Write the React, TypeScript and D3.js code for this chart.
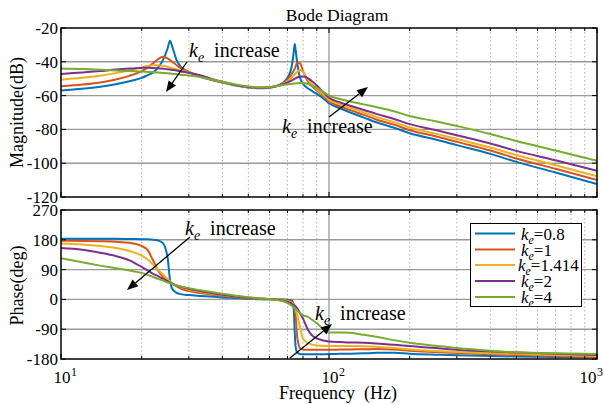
import React from "react";
import * as d3 from "d3";

// Frequency samples (Hz)
const FREQ = [10, 12, 14, 16, 18, 20, 21, 22, 23, 24, 25, 25.5, 26, 27, 28, 30, 33, 36, 40, 45, 50, 55, 60, 64, 67, 70, 72, 73, 74, 74.5, 75, 76, 78, 80, 83, 86, 90, 95, 100, 110, 120, 135, 150, 175, 200, 250, 300, 400, 500, 700, 1000];

const KE_LABELS = ["0.8", "1", "1.414", "2", "4"];
const COLORS = ["#0072BD", "#D95319", "#EDB120", "#7E2F8E", "#77AC30"];

// Magnitude (dB)
const MAG_08 = [-57, -56, -54.8, -53.3, -51.5, -49.5, -48, -46.5, -43.5, -39, -32, -27.5, -31, -39, -43, -46, -48.7, -50.5, -52.2, -54, -55.2, -55.6, -55.3, -54.2, -52.6, -49.5, -45, -40.5, -33, -29.5, -32.5, -40, -49.5, -53, -55.5, -57, -59, -61.5, -64.5, -67.5, -70, -73, -75.8, -79, -82.3, -86, -89.3, -94.5, -99.2, -105.5, -112.4];
const MAG_1 = [-54.5, -53.5, -52.2, -50.5, -48.3, -45.5, -43.5, -41, -38.5, -37, -38, -39, -40, -42, -43.8, -46, -48.5, -50.3, -52.1, -53.9, -55.1, -55.5, -55.2, -54.3, -53, -50.5, -48, -46.5, -45, -44, -43, -40.5, -41, -45.5, -51, -54, -57, -60, -63.5, -66.3, -68.6, -71.4, -74.1, -77.2, -80.5, -84.1, -87.4, -92.5, -97.2, -103.3, -110];
const MAG_1414 = [-50.6, -49.5, -48.2, -46.7, -45, -43.3, -42.5, -42, -42, -42.4, -43, -43.4, -43.8, -44.5, -45.2, -46.3, -48.2, -50, -52, -53.8, -55, -55.4, -55.1, -54.3, -53.2, -51.5, -50, -49, -48, -47.5, -47, -46, -44.8, -46, -50, -53, -56, -59.3, -62.5, -65, -67.2, -70, -72.6, -75.7, -78.9, -82.5, -85.7, -90.7, -95.2, -101.2, -107.8];
const MAG_2 = [-47.2, -46.4, -45.5, -44.6, -44, -43.6, -43.5, -43.6, -43.8, -44.1, -44.4, -44.6, -44.8, -45.2, -45.7, -46.5, -48, -49.8, -51.8, -53.7, -54.9, -55.3, -55, -54.3, -53.4, -52.2, -51.3, -50.8, -50.3, -50, -49.8, -49.3, -48.8, -48.7, -49.5, -51.2, -54, -57.8, -61.3, -64, -66, -68.5, -70.8, -73.8, -76.9, -80.4, -83.5, -88.3, -92.7, -98.3, -104.5];
const MAG_4 = [-44, -44.3, -44.7, -45.1, -45.5, -45.8, -46, -46.2, -46.4, -46.6, -46.8, -46.9, -47, -47.3, -47.6, -48.1, -49, -50.2, -51.8, -53.5, -54.6, -55.1, -54.9, -54.3, -53.8, -53.3, -53.1, -53, -52.9, -52.8, -52.8, -52.7, -52.6, -52.6, -53, -54, -55.5, -57.8, -60, -62, -63.5, -65.2, -66.8, -69.3, -72.1, -75.2, -78, -82.7, -86.9, -92.5, -98.6];

// Phase (deg)
const PH_08 = [183, 183, 183, 183, 182.5, 182, 181.5, 180.5, 178, 170, 125, 60, 32, 20, 16, 13, 10.5, 8.5, 6, 4, 2, 0.5, 0, -0.3, -0.5, -1, -2.5, -5, -40, -100, -140, -160, -165, -166, -166, -166, -166, -165.5, -165, -164.5, -164, -163, -161.5, -161, -164, -167, -169, -171, -172.5, -174, -175];
const PH_1 = [177, 176.5, 175.5, 174, 171, 161, 150, 120, 88, 68, 57, 52, 47.5, 39, 33, 25, 19, 15, 11, 7, 3.5, 1.5, 0.5, 0, -1, -2.5, -6, -10, -15, -22, -45, -110, -147, -151, -152, -152, -152, -152, -152, -151.5, -151, -150.5, -150, -151, -155, -159, -162, -166, -168, -171, -174];
const PH_1414 = [169, 166, 161, 155, 146, 132, 121, 106, 90, 75, 61, 55, 49, 42, 37, 30, 23, 18, 13, 8, 4.5, 2, 0.8, -0.5, -2, -5, -9, -12, -16, -19, -30, -45, -85, -119, -131, -136, -139, -140, -141, -141, -141, -141.5, -143, -147, -151, -156, -159, -162.5, -164.5, -168, -171];
const PH_2 = [155, 150, 141, 131, 118, 98, 88, 78, 70, 62, 55, 51, 47, 42, 38, 32, 25, 20, 14, 9, 5, 2.5, 1, -1, -3, -7, -11, -14, -17, -19, -21, -26, -42, -58, -88, -107, -118, -124, -127, -129, -130, -131, -133, -137, -141, -147, -152, -157.5, -160.5, -164, -168];
const PH_4 = [124, 112, 102, 94, 87, 80, 74, 68, 62, 57, 51, 49, 46, 42, 39, 34, 28, 23, 17, 11, 6.5, 3.5, 1, -2, -5, -11, -17, -20, -25, -27, -29, -33, -41, -48, -52, -60, -72, -88, -100, -100, -101, -107, -113, -123, -131, -140, -147, -155, -159.5, -163, -165];

const MAG_SERIES = [MAG_08, MAG_1, MAG_1414, MAG_2, MAG_4];
const PH_SERIES = [PH_08, PH_1, PH_1414, PH_2, PH_4];

const MAG_TICKS = [-120, -100, -80, -60, -40, -20];
const PH_TICKS = [-180, -90, 0, 90, 180, 270];
const DECADES = [10, 100, 1000];
const DECADE_EXP = ["1", "2", "3"];

const SERIF = '"Liberation Serif","Times New Roman",Times,serif';

const X0 = 61, X1 = 597;
const TOP = { y0: 28, y1: 197 };
const BOT = { y0: 210, y1: 359 };
const W = 603;

function Arrow({ x1, y1, x2, y2 }: { x1: number; y1: number; x2: number; y2: number }) {
  const ang = Math.atan2(y2 - y1, x2 - x1);
  const len = 11, half = 4.5;
  const bx = x2 - len * Math.cos(ang), by = y2 - len * Math.sin(ang);
  const px = -Math.sin(ang) * half, py = Math.cos(ang) * half;
  return (
    <g>
      <line x1={x1} y1={y1} x2={bx} y2={by} stroke="#000" strokeWidth={1.3} />
      <polygon points={`${x2},${y2} ${bx + px},${by + py} ${bx - px},${by - py}`} fill="#000" />
    </g>
  );
}

function KeText({ x, y, size, rest }: { x: number; y: number; size: number; rest: string }) {
  return (
    <text x={x} y={y} fontFamily={SERIF} fontSize={size} fill="#000" style={{ whiteSpace: "pre" }}>
      <tspan fontStyle="italic">k</tspan>
      <tspan fontStyle="italic" fontSize={size * 0.7} dy={size * 0.25}>e</tspan>
      <tspan dy={-size * 0.25}>{rest}</tspan>
    </text>
  );
}

export default function App() {
  const x = d3.scaleLog().domain([10, 1000]).range([X0, X1]);
  const yM = d3.scaleLinear().domain([-120, -20]).range([TOP.y1, TOP.y0]);
  const yP = d3.scaleLinear().domain([-180, 270]).range([BOT.y1, BOT.y0]);

  const mkLine = (y: d3.ScaleLinear<number, number>) =>
    d3
      .line<number>()
      .x((_, i) => x(FREQ[i]))
      .y((d) => y(d))
      .curve(d3.curveMonotoneX);

  const minor: number[] = [];
  [10, 100].forEach((dec) => {
    for (let k = 2; k <= 9; k++) minor.push(dec * k);
  });

  const panel = (
    y: d3.ScaleLinear<number, number>,
    ticks: number[],
    box: { y0: number; y1: number },
    series: number[][],
    id: string
  ) => (
    <g>
      <defs>
        <clipPath id={id}>
          <rect x={X0} y={box.y0} width={X1 - X0} height={box.y1 - box.y0} />
        </clipPath>
      </defs>
      {minor.map((f) => (
        <line key={"v" + f} x1={x(f)} x2={x(f)} y1={box.y0} y2={box.y1} stroke="#b0b0b0" strokeWidth={1} strokeDasharray="1.5,2.5" />
      ))}
      <line x1={x(100)} x2={x(100)} y1={box.y0} y2={box.y1} stroke="#8f8f8f" strokeWidth={1.2} />
      {ticks.slice(1, -1).map((t) => (
        <line key={"h" + t} x1={X0} x2={X1} y1={y(t)} y2={y(t)} stroke="#9a9a9a" strokeWidth={1.4} />
      ))}
      <g clipPath={`url(#${id})`}>
        {series.map((vals, i) => (
          <path key={i} d={mkLine(y)(vals) || ""} fill="none" stroke={COLORS[i]} strokeWidth={2} strokeLinejoin="round" />
        ))}
      </g>
      {/* inward ticks */}
      {ticks.map((t) => (
        <g key={"t" + t}>
          <line x1={X0} x2={X0 + 5} y1={y(t)} y2={y(t)} stroke="#000" strokeWidth={1} />
          <line x1={X1 - 5} x2={X1} y1={y(t)} y2={y(t)} stroke="#000" strokeWidth={1} />
        </g>
      ))}
      {DECADES.map((f) => (
        <g key={"d" + f}>
          <line x1={x(f)} x2={x(f)} y1={box.y1} y2={box.y1 - 5} stroke="#000" />
          <line x1={x(f)} x2={x(f)} y1={box.y0} y2={box.y0 + 5} stroke="#000" />
        </g>
      ))}
      {minor.map((f) => (
        <g key={"m" + f}>
          <line x1={x(f)} x2={x(f)} y1={box.y1} y2={box.y1 - 3} stroke="#000" />
          <line x1={x(f)} x2={x(f)} y1={box.y0} y2={box.y0 + 3} stroke="#000" />
        </g>
      ))}
      <rect x={X0} y={box.y0} width={X1 - X0} height={box.y1 - box.y0} fill="none" stroke="#000" strokeWidth={1.5} />
      {ticks.map((t) => (
        <text key={"l" + t} x={X0 - 3} y={y(t)} dy="0.35em" textAnchor="end" fontFamily={SERIF} fontSize={17} fill="#000">
          {t}
        </text>
      ))}
    </g>
  );

  const legendY = [233.5, 249.5, 265, 281, 297];

  return (
    <svg width={603} height={405} style={{ position: "fixed", left: 0, top: 0, background: "#fff" }} xmlns="http://www.w3.org/2000/svg">
      <rect x={0} y={0} width={603} height={405} fill="#fff" />
      <text x={337} y={21} textAnchor="middle" fontFamily={SERIF} fontSize={17.5} fill="#000">
        Bode Diagram
      </text>

      {panel(yM, MAG_TICKS, TOP, MAG_SERIES, "clipMag")}
      {panel(yP, PH_TICKS, BOT, PH_SERIES, "clipPh")}

      {/* axis titles */}
      <text transform={`translate(23,${(TOP.y0 + TOP.y1) / 2}) rotate(-90)`} textAnchor="middle" fontFamily={SERIF} fontSize={18} fill="#000">
        Magnitude(dB)
      </text>
      <text transform={`translate(23,${(BOT.y0 + BOT.y1) / 2 + 1}) rotate(-90)`} textAnchor="middle" fontFamily={SERIF} fontSize={18} fill="#000">
        Phase(deg)
      </text>
      {DECADES.map((f, i) => {
        // keep the last decade label inside the figure edge
        const cx = Math.min(x(f) + 1, W - 15);
        return (
          <g key={"xl" + f}>
            <text x={cx} y={383} textAnchor="middle" fontFamily={SERIF} fontSize={17} fill="#000">
              10
            </text>
            <text x={cx + 9} y={376} fontFamily={SERIF} fontSize={12} fill="#000">
              {DECADE_EXP[i]}
            </text>
          </g>
        );
      })}
      <text x={338} y={399} textAnchor="middle" fontFamily={SERIF} fontSize={18} fill="#000" style={{ whiteSpace: "pre" }}>
        Frequency  (Hz)
      </text>

      {/* annotations */}
      <KeText x={189} y={57} size={20} rest={"  increase"} />
      <Arrow x1={187} y1={62} x2={166} y2={92} />
      <KeText x={282} y={133} size={20} rest={"  increase"} />
      <Arrow x1={329} y1={117} x2={368} y2={87} />
      <KeText x={185} y={235} size={20} rest={"  increase"} />
      <Arrow x1={190} y1={237} x2={127} y2={290} />
      <KeText x={315} y={320} size={20} rest={"  increase"} />
      <Arrow x1={290} y1={358} x2={332} y2={324} />

      {/* legend */}
      <rect x={470.5} y={223.5} width={111} height={83} fill="#fff" stroke="#000" strokeWidth={1} />
      {KE_LABELS.map((lab, i) => (
        <g key={"lg" + i}>
          <line x1={475} x2={515} y1={legendY[i]} y2={legendY[i]} stroke={COLORS[i]} strokeWidth={2} />
          <KeText x={lab === "1.414" ? 518 : 521} y={legendY[i] + 6} size={17} rest={"=" + lab} />
        </g>
      ))}
    </svg>
  );
}
